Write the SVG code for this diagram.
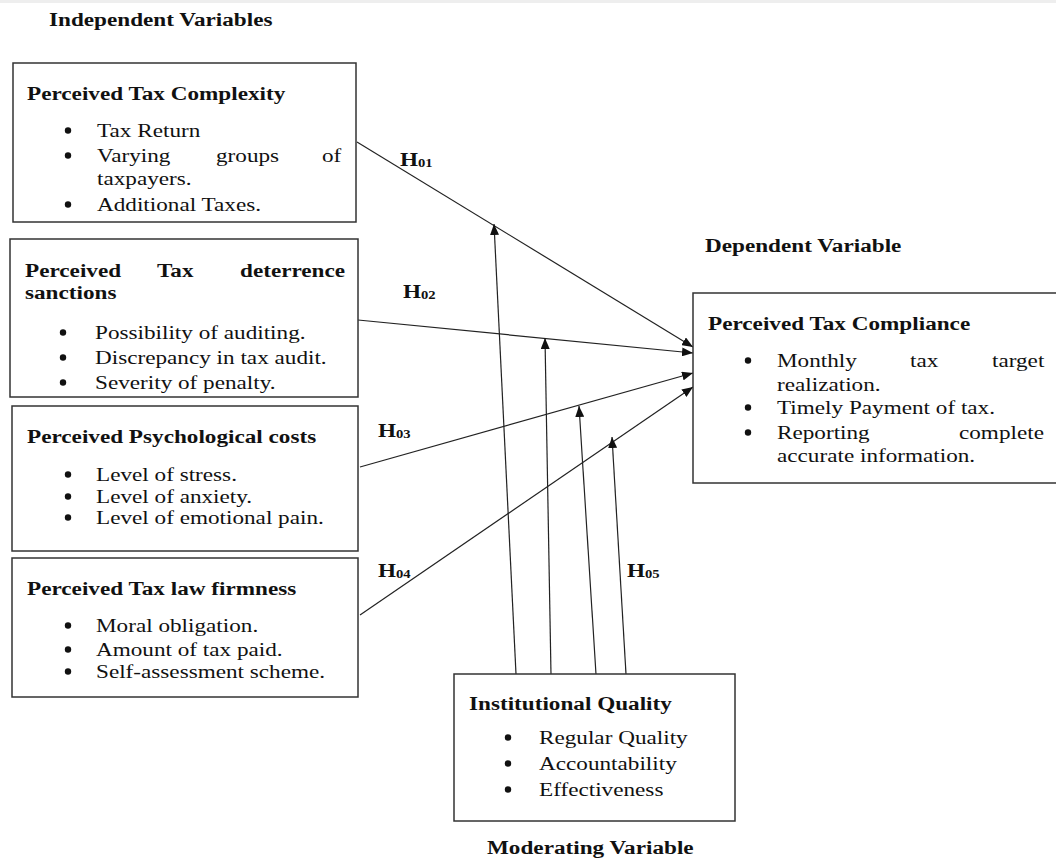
<svg xmlns="http://www.w3.org/2000/svg" width="1056" height="860" viewBox="0 0 1056 860">
  <style>
    .bg { fill: #ffffff; }
    .box { fill: #ffffff; stroke: #333333; stroke-width: 1.5; }
    .b { font-family: "Liberation Serif", "Times New Roman", serif; font-weight: bold; font-size: 19px; fill: #111111; }
    .r { font-family: "Liberation Serif", "Times New Roman", serif; font-size: 19px; fill: #111111; }
    .bul { fill: #111111; }
    .sub { font-size: 12px; }
    .con { fill: none; stroke: #222222; stroke-width: 1.2; }
  </style>
  <defs>
    <marker id="arrow" markerWidth="11" markerHeight="9" refX="11" refY="4.5" orient="auto" markerUnits="userSpaceOnUse">
      <path d="M0,0 L11,4.5 L0,9 z" fill="#111111"/>
    </marker>
  </defs>
  <rect class="bg" x="0" y="0" width="1056" height="860"/>
  <rect x="0" y="0" width="1056" height="3" fill="#eeeeee"/>

  <g id="titles">
    <text class="b" transform="translate(49,26) scale(1.22,1)">Independent Variables</text>
    <text class="b" transform="translate(705,252) scale(1.22,1)">Dependent Variable</text>
    <text class="b" transform="translate(487,854) scale(1.22,1)">Moderating Variable</text>
  </g>

  <g id="connectors">
    <line class="con" x1="357" y1="142" x2="693" y2="347" marker-end="url(#arrow)"/>
    <line class="con" x1="358" y1="320" x2="693" y2="353" marker-end="url(#arrow)"/>
    <line class="con" x1="360" y1="467" x2="693" y2="373" marker-end="url(#arrow)"/>
    <line class="con" x1="360" y1="615" x2="693" y2="387" marker-end="url(#arrow)"/>
    <line class="con" x1="516" y1="674" x2="494" y2="224" marker-end="url(#arrow)"/>
    <line class="con" x1="551" y1="674" x2="545" y2="338" marker-end="url(#arrow)"/>
    <line class="con" x1="596" y1="674" x2="579" y2="406" marker-end="url(#arrow)"/>
    <line class="con" x1="626" y1="674" x2="612" y2="437" marker-end="url(#arrow)"/>
  </g>

  <g id="hypothesis-labels">
    <text class="b" transform="translate(400,166) scale(1.22,1)">H<tspan class="sub" dy="1">01</tspan></text>
    <text class="b" transform="translate(403,298) scale(1.22,1)">H<tspan class="sub" dy="1">02</tspan></text>
    <text class="b" transform="translate(378,437) scale(1.22,1)">H<tspan class="sub" dy="1">03</tspan></text>
    <text class="b" transform="translate(378,577) scale(1.22,1)">H<tspan class="sub" dy="1">04</tspan></text>
    <text class="b" transform="translate(627,577) scale(1.22,1)">H<tspan class="sub" dy="1">05</tspan></text>
  </g>

  <g id="tax-complexity">
    <rect class="box" x="13" y="63" width="343" height="159"/>
    <text class="b" transform="translate(27,100) scale(1.22,1)">Perceived Tax Complexity</text>
    <circle class="bul" cx="68" cy="130.5" r="3.2"/>
    <text class="r" transform="translate(97,137) scale(1.22,1)">Tax Return</text>
    <circle class="bul" cx="68" cy="155.5" r="3.2"/>
    <text class="r" transform="translate(97,162) scale(1.22,1)">Varying</text>
    <text class="r" transform="translate(216,162) scale(1.22,1)">groups</text>
    <text class="r" transform="translate(322,162) scale(1.22,1)">of</text>
    <text class="r" transform="translate(97,185) scale(1.22,1)">taxpayers.</text>
    <circle class="bul" cx="68" cy="204.5" r="3.2"/>
    <text class="r" transform="translate(97,211) scale(1.22,1)">Additional Taxes.</text>
  </g>

  <g id="deterrence-sanctions">
    <rect class="box" x="10" y="239" width="348" height="158"/>
    <text class="b" transform="translate(25,277) scale(1.22,1)">Perceived</text>
    <text class="b" transform="translate(157,277) scale(1.22,1)">Tax</text>
    <text class="b" transform="translate(240,277) scale(1.22,1)">deterrence</text>
    <text class="b" transform="translate(25,299) scale(1.22,1)">sanctions</text>
    <circle class="bul" cx="63" cy="332.5" r="3.2"/>
    <text class="r" transform="translate(95,339) scale(1.22,1)">Possibility of auditing.</text>
    <circle class="bul" cx="63" cy="357.5" r="3.2"/>
    <text class="r" transform="translate(95,364) scale(1.22,1)">Discrepancy in tax audit.</text>
    <circle class="bul" cx="63" cy="382.5" r="3.2"/>
    <text class="r" transform="translate(95,389) scale(1.22,1)">Severity of penalty.</text>
  </g>

  <g id="psychological-costs">
    <rect class="box" x="12" y="406" width="346" height="145"/>
    <text class="b" transform="translate(27,443) scale(1.22,1)">Perceived Psychological costs</text>
    <circle class="bul" cx="68" cy="474.5" r="3.2"/>
    <text class="r" transform="translate(96,481) scale(1.22,1)">Level of stress.</text>
    <circle class="bul" cx="68" cy="496.5" r="3.2"/>
    <text class="r" transform="translate(96,503) scale(1.22,1)">Level of anxiety.</text>
    <circle class="bul" cx="68" cy="517.5" r="3.2"/>
    <text class="r" transform="translate(96,524) scale(1.22,1)">Level of emotional pain.</text>
  </g>

  <g id="tax-law-firmness">
    <rect class="box" x="12" y="558" width="346" height="139"/>
    <text class="b" transform="translate(27,595) scale(1.22,1)">Perceived Tax law firmness</text>
    <circle class="bul" cx="68" cy="625.5" r="3.2"/>
    <text class="r" transform="translate(96,632) scale(1.22,1)">Moral obligation.</text>
    <circle class="bul" cx="68" cy="649.5" r="3.2"/>
    <text class="r" transform="translate(96,656) scale(1.22,1)">Amount of tax paid.</text>
    <circle class="bul" cx="68" cy="671.5" r="3.2"/>
    <text class="r" transform="translate(96,678) scale(1.22,1)">Self-assessment scheme.</text>
  </g>

  <g id="tax-compliance">
    <rect class="box" x="693" y="293" width="372" height="190"/>
    <text class="b" transform="translate(708,330) scale(1.22,1)">Perceived Tax Compliance</text>
    <circle class="bul" cx="748" cy="360.5" r="3.2"/>
    <text class="r" transform="translate(777,367) scale(1.22,1)">Monthly</text>
    <text class="r" transform="translate(910,367) scale(1.22,1)">tax</text>
    <text class="r" transform="translate(992,367) scale(1.22,1)">target</text>
    <text class="r" transform="translate(777,391) scale(1.22,1)">realization.</text>
    <circle class="bul" cx="748" cy="407.5" r="3.2"/>
    <text class="r" transform="translate(777,414) scale(1.22,1)">Timely Payment of tax.</text>
    <circle class="bul" cx="748" cy="432.5" r="3.2"/>
    <text class="r" transform="translate(777,439) scale(1.22,1)">Reporting</text>
    <text class="r" transform="translate(959,439) scale(1.22,1)">complete</text>
    <text class="r" transform="translate(777,462) scale(1.22,1)">accurate information.</text>
  </g>

  <g id="institutional-quality">
    <rect class="box" x="454" y="674" width="281" height="147"/>
    <text class="b" transform="translate(469,710) scale(1.22,1)">Institutional Quality</text>
    <circle class="bul" cx="508" cy="737.5" r="3.2"/>
    <text class="r" transform="translate(539,744) scale(1.22,1)">Regular Quality</text>
    <circle class="bul" cx="508" cy="763.5" r="3.2"/>
    <text class="r" transform="translate(539,770) scale(1.22,1)">Accountability</text>
    <circle class="bul" cx="508" cy="789.5" r="3.2"/>
    <text class="r" transform="translate(539,796) scale(1.22,1)">Effectiveness</text>
  </g>
</svg>
